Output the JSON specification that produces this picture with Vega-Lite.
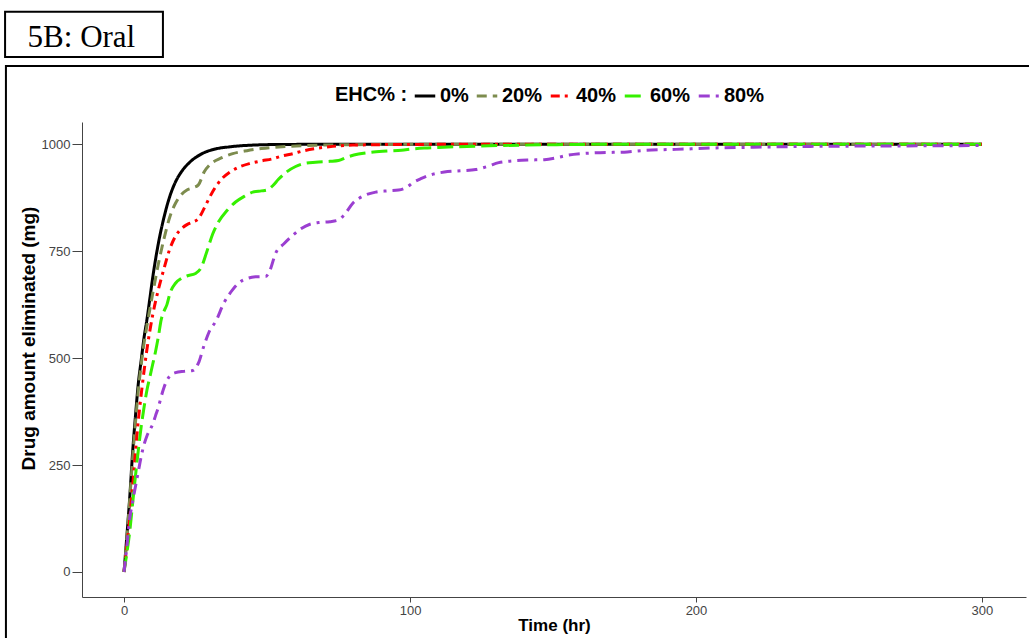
{
  "$schema": "https://vega.github.io/schema/vega-lite/v6.json",
  "width": 944,
  "height": 475,
  "autosize": {"type": "none"},
  "padding": {"left": 82, "top": 122, "right": 3, "bottom": 41},
  "background": "white",
  "config": {"view": {"stroke": null}},
  "datasets": {
    "curves": [
      {"s":"0%","t":0,"v":0},{"s":"0%","t":1,"v":85},{"s":"0%","t":2,"v":175},{"s":"0%","t":3,"v":280},{"s":"0%","t":4,"v":365},{"s":"0%","t":5,"v":441},{"s":"0%","t":6,"v":495},{"s":"0%","t":7,"v":548},{"s":"0%","t":8,"v":590},{"s":"0%","t":9,"v":638},{"s":"0%","t":10,"v":687},{"s":"0%","t":12,"v":768},{"s":"0%","t":14,"v":830},{"s":"0%","t":16,"v":878},{"s":"0%","t":18,"v":912},{"s":"0%","t":20,"v":935},{"s":"0%","t":23,"v":958},{"s":"0%","t":27,"v":977},{"s":"0%","t":32,"v":989},{"s":"0%","t":37,"v":994},{"s":"0%","t":45,"v":998},{"s":"0%","t":55,"v":999.5},{"s":"0%","t":80,"v":1000},{"s":"0%","t":300,"v":1000},
      {"s":"20%","t":0,"v":0},{"s":"20%","t":1,"v":80},{"s":"20%","t":2,"v":170},{"s":"20%","t":3,"v":265},{"s":"20%","t":4,"v":350},{"s":"20%","t":5,"v":425},{"s":"20%","t":6,"v":485},{"s":"20%","t":7,"v":535},{"s":"20%","t":8,"v":575},{"s":"20%","t":10,"v":650},{"s":"20%","t":12,"v":720},{"s":"20%","t":14,"v":780},{"s":"20%","t":16,"v":830},{"s":"20%","t":18,"v":862},{"s":"20%","t":20,"v":882},{"s":"20%","t":22,"v":893},{"s":"20%","t":24,"v":898},{"s":"20%","t":26,"v":905},{"s":"20%","t":28,"v":935},{"s":"20%","t":30,"v":952},{"s":"20%","t":34,"v":968},{"s":"20%","t":38,"v":978},{"s":"20%","t":43,"v":985},{"s":"20%","t":48,"v":990},{"s":"20%","t":57,"v":995},{"s":"20%","t":70,"v":998},{"s":"20%","t":90,"v":999.5},{"s":"20%","t":120,"v":1000},{"s":"20%","t":300,"v":1000},
      {"s":"40%","t":0,"v":0},{"s":"40%","t":1,"v":60},{"s":"40%","t":2,"v":125},{"s":"40%","t":3,"v":200},{"s":"40%","t":4,"v":280},{"s":"40%","t":5,"v":355},{"s":"40%","t":6,"v":415},{"s":"40%","t":7,"v":470},{"s":"40%","t":8,"v":520},{"s":"40%","t":10,"v":600},{"s":"40%","t":12,"v":660},{"s":"40%","t":14,"v":710},{"s":"40%","t":16,"v":755},{"s":"40%","t":18,"v":785},{"s":"40%","t":20,"v":802},{"s":"40%","t":22,"v":812},{"s":"40%","t":24,"v":818},{"s":"40%","t":26,"v":826},{"s":"40%","t":28,"v":850},{"s":"40%","t":30,"v":877},{"s":"40%","t":32,"v":900},{"s":"40%","t":34,"v":918},{"s":"40%","t":37,"v":935},{"s":"40%","t":40,"v":946},{"s":"40%","t":44,"v":955},{"s":"40%","t":48,"v":961},{"s":"40%","t":52,"v":966},{"s":"40%","t":55,"v":972},{"s":"40%","t":59,"v":978},{"s":"40%","t":63,"v":985},{"s":"40%","t":67,"v":990},{"s":"40%","t":73,"v":995},{"s":"40%","t":80,"v":998},{"s":"40%","t":100,"v":999.5},{"s":"40%","t":130,"v":1000},{"s":"40%","t":300,"v":1000},
      {"s":"60%","t":0,"v":0},{"s":"60%","t":1,"v":45},{"s":"60%","t":2,"v":95},{"s":"60%","t":3,"v":160},{"s":"60%","t":4,"v":225},{"s":"60%","t":5,"v":285},{"s":"60%","t":6,"v":340},{"s":"60%","t":7,"v":385},{"s":"60%","t":8,"v":425},{"s":"60%","t":9,"v":455},{"s":"60%","t":10,"v":485},{"s":"60%","t":11,"v":515},{"s":"60%","t":12,"v":550},{"s":"60%","t":13,"v":590},{"s":"60%","t":14,"v":610},{"s":"60%","t":15,"v":625},{"s":"60%","t":16,"v":650},{"s":"60%","t":18,"v":675},{"s":"60%","t":20,"v":686},{"s":"60%","t":22,"v":692},{"s":"60%","t":25,"v":698},{"s":"60%","t":27,"v":712},{"s":"60%","t":29,"v":750},{"s":"60%","t":31,"v":790},{"s":"60%","t":33,"v":818},{"s":"60%","t":36,"v":845},{"s":"60%","t":39,"v":865},{"s":"60%","t":42,"v":878},{"s":"60%","t":45,"v":888},{"s":"60%","t":48,"v":891},{"s":"60%","t":50,"v":893},{"s":"60%","t":52,"v":903},{"s":"60%","t":54,"v":918},{"s":"60%","t":57,"v":936},{"s":"60%","t":60,"v":948},{"s":"60%","t":63,"v":955},{"s":"60%","t":67,"v":958},{"s":"60%","t":72,"v":960},{"s":"60%","t":75,"v":962},{"s":"60%","t":78,"v":970},{"s":"60%","t":82,"v":977},{"s":"60%","t":86,"v":981},{"s":"60%","t":92,"v":984},{"s":"60%","t":97,"v":986},{"s":"60%","t":101,"v":989},{"s":"60%","t":105,"v":991},{"s":"60%","t":110,"v":992.5},{"s":"60%","t":120,"v":995},{"s":"60%","t":132,"v":997},{"s":"60%","t":150,"v":999},{"s":"60%","t":180,"v":1000},{"s":"60%","t":300,"v":1000},
      {"s":"80%","t":0,"v":0},{"s":"80%","t":1,"v":60},{"s":"80%","t":2,"v":125},{"s":"80%","t":3,"v":165},{"s":"80%","t":4,"v":200},{"s":"80%","t":5,"v":235},{"s":"80%","t":6,"v":270},{"s":"80%","t":7,"v":298},{"s":"80%","t":8,"v":318},{"s":"80%","t":9,"v":332},{"s":"80%","t":10,"v":345},{"s":"80%","t":11,"v":365},{"s":"80%","t":12,"v":385},{"s":"80%","t":13,"v":410},{"s":"80%","t":14,"v":432},{"s":"80%","t":15,"v":448},{"s":"80%","t":16,"v":458},{"s":"80%","t":18,"v":466},{"s":"80%","t":21,"v":469},{"s":"80%","t":24,"v":471},{"s":"80%","t":26,"v":488},{"s":"80%","t":28,"v":530},{"s":"80%","t":30,"v":565},{"s":"80%","t":32,"v":585},{"s":"80%","t":35,"v":630},{"s":"80%","t":38,"v":660},{"s":"80%","t":40,"v":675},{"s":"80%","t":43,"v":686},{"s":"80%","t":46,"v":690},{"s":"80%","t":49.5,"v":691},{"s":"80%","t":51,"v":705},{"s":"80%","t":53,"v":745},{"s":"80%","t":56,"v":768},{"s":"80%","t":59,"v":787},{"s":"80%","t":62,"v":803},{"s":"80%","t":65,"v":813},{"s":"80%","t":68,"v":817},{"s":"80%","t":72,"v":819},{"s":"80%","t":75,"v":823},{"s":"80%","t":77,"v":835},{"s":"80%","t":80,"v":862},{"s":"80%","t":84,"v":880},{"s":"80%","t":88,"v":888},{"s":"80%","t":92,"v":891},{"s":"80%","t":96,"v":893},{"s":"80%","t":99,"v":900},{"s":"80%","t":101,"v":910},{"s":"80%","t":104,"v":920},{"s":"80%","t":107,"v":928},{"s":"80%","t":112,"v":935},{"s":"80%","t":118,"v":938},{"s":"80%","t":123,"v":941},{"s":"80%","t":127,"v":948},{"s":"80%","t":131,"v":957},{"s":"80%","t":136,"v":961},{"s":"80%","t":141,"v":963},{"s":"80%","t":147,"v":964},{"s":"80%","t":151,"v":968},{"s":"80%","t":155,"v":974},{"s":"80%","t":160,"v":978},{"s":"80%","t":165,"v":980},{"s":"80%","t":171,"v":981},{"s":"80%","t":176,"v":982},{"s":"80%","t":181,"v":985},{"s":"80%","t":187,"v":987},{"s":"80%","t":193,"v":988},{"s":"80%","t":205,"v":991},{"s":"80%","t":220,"v":993},{"s":"80%","t":240,"v":995},{"s":"80%","t":270,"v":996},{"s":"80%","t":300,"v":997}
    ]
  },
  "layer": [
    {
      "data": {"values": [{"name": "frame"}]},
      "mark": {"type": "rect", "filled": false, "stroke": "#000000", "strokeWidth": 2, "clip": false},
      "encoding": {
        "x": {"datum": -41.3, "type": "quantitative"},
        "x2": {"datum": 340},
        "y": {"datum": 1183, "type": "quantitative"},
        "y2": {"datum": -200}
      }
    },
    {
      "data": {"values": [{"name": "titlebox"}]},
      "mark": {"type": "rect", "filled": false, "stroke": "#000000", "strokeWidth": 2, "clip": false},
      "encoding": {
        "x": {"datum": -41.6, "type": "quantitative"},
        "x2": {"datum": 13.6},
        "y": {"datum": 1310, "type": "quantitative"},
        "y2": {"datum": 1204}
      }
    },
    {
      "data": {"values": [{"label": "5B: Oral"}]},
      "mark": {"type": "text", "font": "Liberation Serif", "fontSize": 31, "align": "center", "baseline": "alphabetic", "color": "#000000", "clip": false},
      "encoding": {
        "x": {"datum": -14.9, "type": "quantitative"},
        "y": {"datum": 1228, "type": "quantitative"},
        "text": {"field": "label"}
      }
    },
    {
      "data": {"name": "curves"},
      "mark": {"type": "line", "strokeWidth": 3, "interpolate": "monotone", "clip": false},
      "encoding": {
        "x": {
          "field": "t", "type": "quantitative",
          "scale": {"domain": [-14.7, 315.4], "nice": false, "zero": false},
          "axis": {
            "title": "Time (hr)", "values": [0, 100, 200, 300], "format": "d", "grid": false,
            "tickSize": 5, "labelPadding": 2, "titlePadding": 0,
            "labelFont": "Liberation Sans", "labelFontSize": 13, "labelColor": "#444444",
            "domainColor": "#444444", "tickColor": "#444444",
            "titleFont": "Liberation Sans", "titleFontSize": 17, "titleFontWeight": "bold", "titleColor": "#000000"
          }
        },
        "y": {
          "field": "v", "type": "quantitative",
          "scale": {"domain": [-58.5, 1052], "nice": false, "zero": false},
          "axis": {
            "title": "Drug amount eliminated (mg)", "values": [0, 250, 500, 750, 1000], "format": "d", "grid": false,
            "tickSize": 10, "labelPadding": 2, "titlePadding": 3, "titleY": 216,
            "labelFont": "Liberation Sans", "labelFontSize": 13, "labelColor": "#444444",
            "domainColor": "#444444", "tickColor": "#444444",
            "titleFont": "Liberation Sans", "titleFontSize": 19, "titleFontWeight": "bold", "titleColor": "#000000"
          }
        },
        "color": {
          "field": "s", "type": "nominal",
          "scale": {"domain": ["0%", "20%", "40%", "60%", "80%"], "range": ["#000000", "#7d8c4e", "#ff0000", "#35f000", "#9b3fd1"]},
          "legend": {
            "title": "EHC% :", "orient": "none", "legendX": 253, "legendY": -38, "direction": "horizontal",
            "titleOrient": "left", "titlePadding": 5, "symbolType": "stroke", "symbolSize": 420, "symbolStrokeWidth": 3,
            "labelFont": "Liberation Sans", "labelFontSize": 20, "labelFontWeight": "bold", "labelColor": "#000000",
            "titleFont": "Liberation Sans", "titleFontSize": 20, "titleFontWeight": "bold", "titleColor": "#000000",
            "columnPadding": 1, "labelOffset": 3
          }
        },
        "strokeDash": {
          "field": "s", "type": "nominal",
          "scale": {"domain": ["0%", "20%", "40%", "60%", "80%"], "range": [[1, 0], [10, 6], [9, 5, 3, 5], [16, 6], [11, 6, 3, 6]]},
          "legend": {
            "title": "EHC% :", "orient": "none", "legendX": 253, "legendY": -38, "direction": "horizontal",
            "titleOrient": "left", "titlePadding": 5, "symbolType": "stroke", "symbolSize": 420, "symbolStrokeWidth": 3,
            "labelFont": "Liberation Sans", "labelFontSize": 20, "labelFontWeight": "bold", "labelColor": "#000000",
            "titleFont": "Liberation Sans", "titleFontSize": 20, "titleFontWeight": "bold", "titleColor": "#000000",
            "columnPadding": 1, "labelOffset": 3
          }
        }
      }
    }
  ]
}
